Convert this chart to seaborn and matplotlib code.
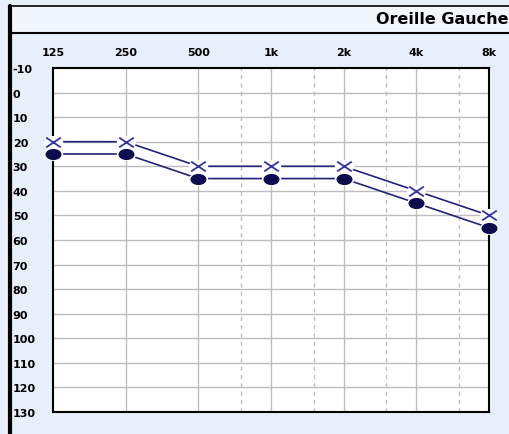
import numpy as np
import matplotlib
matplotlib.use("Agg")
import matplotlib.pyplot as plt
from matplotlib.lines import Line2D
from matplotlib.patches import Rectangle
from matplotlib.path import Path
from matplotlib.ticker import FixedLocator, NullFormatter
import seaborn as sns

# audiogram values (left ear)
freqs = [125, 250, 500, 1000, 2000, 4000, 8000]
freq_labels = ["125", "250", "500", "1k", "2k", "4k", "8k"]
half_octaves = [750, 1500, 3000, 6000]
air_db = [20, 20, 30, 30, 30, 40, 50]     # crosses
bone_db = [25, 25, 35, 35, 35, 45, 55]    # dots
db_ticks = list(range(-10, 140, 10))

sns.set_style("white")
plt.rcParams["font.family"] = ["DejaVu Sans"]

W, H = 509, 435
fig = plt.figure(figsize=(W / 100, H / 100), dpi=100)
fig.patch.set_facecolor("#e6effa")

def fx(px):
    return px / W

def fy(py):
    return 1 - py / H

# title bar
fig.patches.append(Rectangle((fx(10), fy(34)), 1, fy(7) - fy(34), transform=fig.transFigure,
                             facecolor="#f1f6fd", edgecolor="none", zorder=0))
fig.lines.append(Line2D([fx(10), 1], [fy(7), fy(7)], transform=fig.transFigure, color="black", lw=1.2))
fig.lines.append(Line2D([fx(10), 1], [fy(34), fy(34)], transform=fig.transFigure, color="black", lw=1.5))
fig.lines.append(Line2D([fx(9.5), fx(9.5)], [fy(7), 0], transform=fig.transFigure, color="black", lw=3))
fig.text(fx(376), fy(20), "Oreille Gauche", fontsize=11.5, fontweight="bold", ha="left", va="center",
         color="black")

ax = fig.add_axes([fx(53), fy(413), fx(489) - fx(53), fy(69) - fy(413)])
ax.set_facecolor("white")
ax.set_xscale("log")
ax.set_xlim(125, 8000)
ax.set_ylim(130, -10)

# grid
grid_c = "#bdbdbd"
for f in freqs[1:-1]:
    ax.axvline(f, color=grid_c, lw=1, zorder=1)
for f in half_octaves:
    ax.axvline(f, color=grid_c, lw=1, ls=(0, (3, 3)), zorder=1)
for d in db_ticks[1:-1]:
    ax.axhline(d, color=grid_c, lw=1, zorder=1)

line_c = "#23237a"
dot_c = "#0c0c4e"
cross_c = "#3434a0"
sns.lineplot(x=freqs, y=air_db, ax=ax, color=line_c, lw=1.2, zorder=2)
sns.lineplot(x=freqs, y=bone_db, ax=ax, color=line_c, lw=1.2, zorder=2)

# the symbols are wider than tall in the original
circ = Path.unit_circle()
ellipse = Path(circ.vertices * np.array([1.5, 1.0]), circ.codes)
cross = Path([(-1.5, -1), (1.5, 1), (-1.5, 1), (1.5, -1)],
             [Path.MOVETO, Path.LINETO, Path.MOVETO, Path.LINETO])

# white halos behind the symbols
for vals in (air_db, bone_db):
    ax.plot(freqs, vals, ls="none", marker=ellipse, ms=14, mfc="white", mec="none", zorder=3, clip_on=False)
ax.plot(freqs, air_db, ls="none", marker=cross, ms=10.5, mew=1.3, mec=cross_c, mfc="none",
        zorder=4, clip_on=False)
ax.plot(freqs, bone_db, ls="none", marker=ellipse, ms=10.5, color=dot_c, zorder=4, clip_on=False)

ax.xaxis.tick_top()
ax.xaxis.set_major_locator(FixedLocator(freqs))
ax.xaxis.set_minor_locator(FixedLocator([]))
ax.xaxis.set_minor_formatter(NullFormatter())
ax.set_xticklabels(freq_labels, fontsize=8, fontweight="bold", color="black")
ax.tick_params(axis="x", length=0, pad=8)

ax.set_yticks(db_ticks)
ax.set_yticklabels([str(d) for d in db_ticks], fontsize=8, fontweight="bold", ha="left", color="black")
ax.tick_params(axis="y", length=0, pad=29)

for s in ax.spines.values():
    s.set_visible(True)
    s.set_color("black")
    s.set_linewidth(1.5)
    s.set_zorder(2.5)

ax.set_xlabel("")
ax.set_ylabel("")

fig.savefig("out.png", dpi=100, facecolor=fig.get_facecolor())
